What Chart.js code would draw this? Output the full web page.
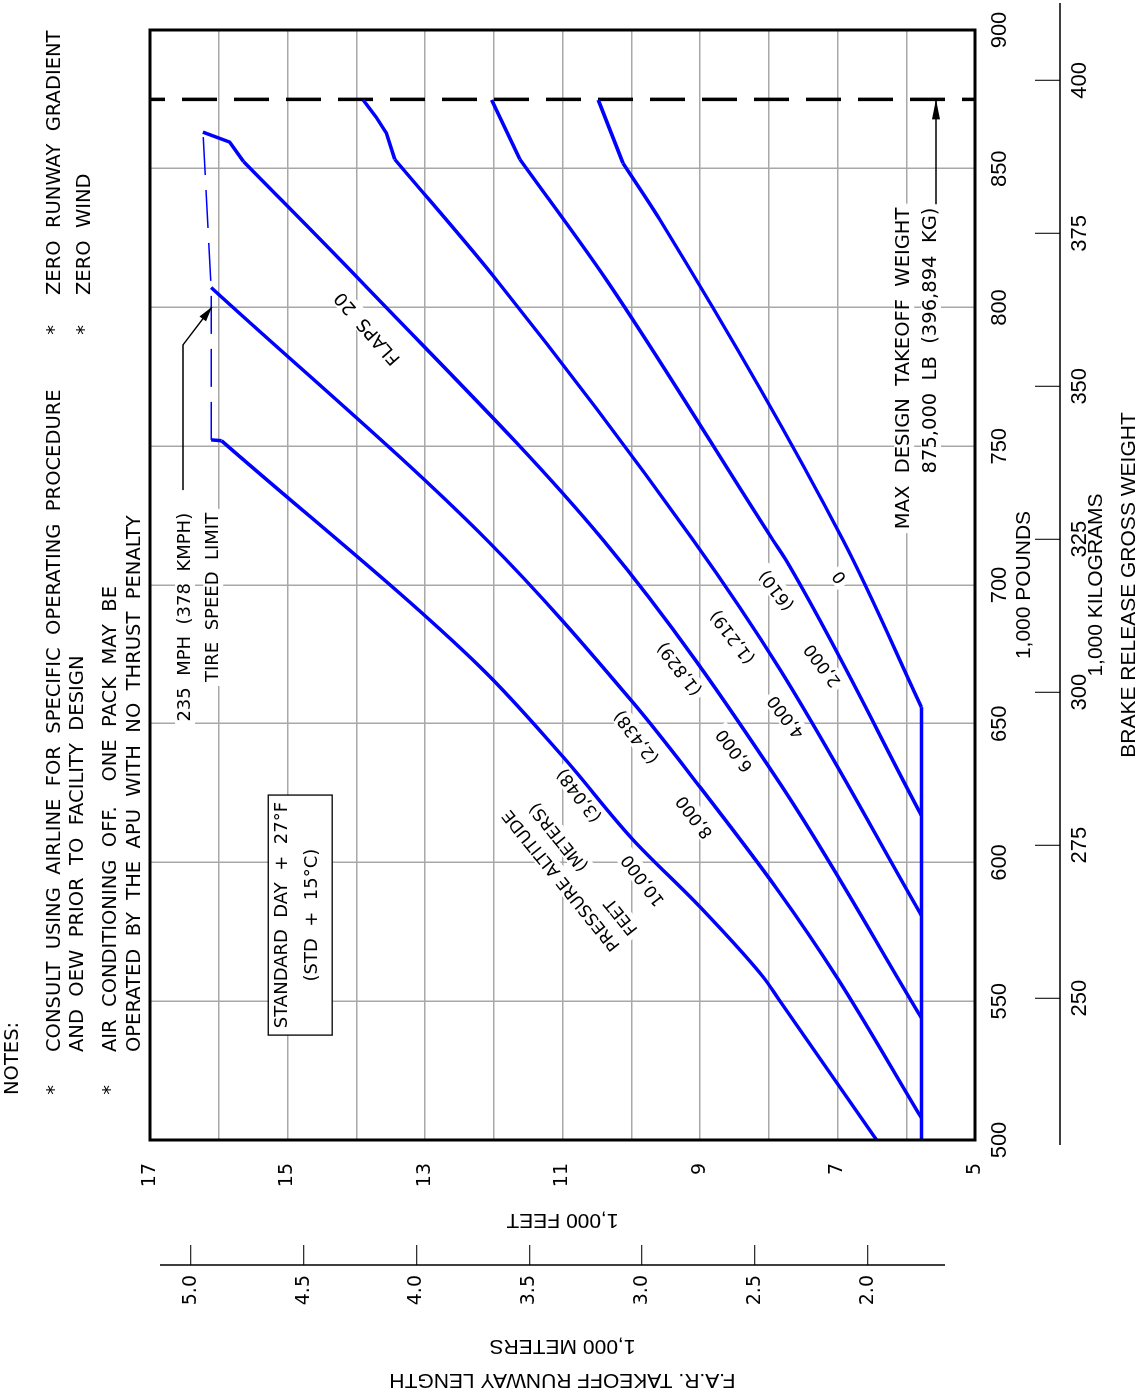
<!DOCTYPE html>
<html>
<head>
<meta charset="utf-8">
<script src="https://cdn.jsdelivr.net/npm/chart.js@4.4.0/dist/chart.umd.min.js"></script>
<style>
html, body { margin: 0; padding: 0; background: #fff; overflow: hidden; width: 1146px; height: 1395px; }
#wrap { position: absolute; left: 0; top: 0; width: 1395px; height: 1146px;
        transform-origin: 0 0; transform: translate(0, 1395px) rotate(-90deg); }
</style>
</head>
<body>
<div id="wrap"><canvas id="myChart" width="1395" height="1146"></canvas></div>
<script>
// tick values
var lbTicks = [500, 550, 600, 650, 700, 750, 800, 850, 900];
var kgTicks = [250, 275, 300, 325, 350, 375, 400];
var feetTicks = [5, 6, 7, 8, 9, 10, 11, 12, 13, 14, 15, 16, 17];
var meterTicks = [2.0, 2.5, 3.0, 3.5, 4.0, 4.5, 5.0];

// pressure altitude labels
var altFeet = ['10,000', '8,000', '6,000', '4,000', '2,000', '0'];
var altMeters = ['(3,048)', '(2,438)', '(1,829)', '(1,219)', '(610)', ''];

// curves: [weight 1,000 lb, runway length 1,000 ft]
// smooth lower part of each curve
var alt10000 = [[500, 6.43], [550.5, 7.85], [558.7, 8.08], [584, 9.0], [608.1, 9.97], [638, 10.99], [670.5, 12.2], [752, 15.96]];
var alt8000 = [[508, 5.78], [558.7, 7.01], [590.1, 7.87], [627.2, 9.0], [657.5, 9.97], [716.2, 12.1], [807.2, 16.11]];
var alt6000 = [[544, 5.78], [628.6, 7.84], [716.2, 10.41], [809.9, 13.95], [852.6, 15.64]];
var alt4000 = [[581, 5.78], [669.7, 7.84], [716.2, 9.1], [809.9, 11.96], [853.4, 13.44]];
var alt2000 = [[617, 5.78], [709, 7.75], [716.2, 7.94], [809.9, 10.36], [853.4, 11.62]];
var alt0 = [[656, 5.78], [716.2, 6.92], [831.5, 9.58], [852, 10.12]];
// straight end pieces above the break points
var alt10000Top = [[752, 15.96], [752.3, 16.11]];
var alt6000Top = [[852.6, 15.64], [859.6, 15.84], [863.2, 16.23]];
var alt4000Top = [[853.4, 13.44], [862.8, 13.56], [868.6, 13.71], [874.8, 13.9]];
var alt2000Top = [[853.4, 11.62], [874.8, 12.03]];
var alt0Top = [[852, 10.12], [874.8, 10.48]];
var minLength = [[500, 5.78], [656, 5.78]];
var tireLimit = [[752.3, 16.11], [807.2, 16.11], [863.2, 16.23]];
var maxTakeoff = [875];

var KG = 0.45359237, M = 0.3048;
var ISO = "'DejaVu Sans'";
var ARIAL = "'Liberation Sans', Arial";

function pts(a) {
    return a.map(function (p) { return { x: p[0], y: p[1] }; });
}
function setTicks(list) {
    return function (s) { s.ticks = list.map(function (v) { return { value: v }; }); };
}
function line(a, extra) {
    var d = { data: pts(a), showLine: true, borderColor: '#0000ff', borderWidth: 3.5, pointRadius: 0, tension: 0 };
    return Object.assign(d, extra || {});
}

var datasets = [];
[alt10000, alt8000, alt6000, alt4000, alt2000, alt0].forEach(function (c, i) {
    datasets.push(line(c, { label: altFeet[i], cubicInterpolationMode: 'monotone' }));
});
[alt10000Top, alt6000Top, alt4000Top, alt2000Top, alt0Top, minLength].forEach(function (c) {
    datasets.push(line(c));
});
datasets.push(line(tireLimit, { borderWidth: 1.5, borderDash: [38, 15] }));
datasets.push(line([[maxTakeoff[0], 17], [maxTakeoff[0], 5]], { borderColor: '#000', borderDash: [35, 17], borderDashOffset: 20 }));

function txt(ctx, s, x, y, o) {
    o = o || {};
    ctx.save();
    ctx.translate(x, y);
    if (o.angle) ctx.rotate(o.angle * Math.PI / 180);
    ctx.font = o.font || ("17px " + ISO);
    ctx.textAlign = o.align || 'center';
    ctx.textBaseline = 'middle';
    if (o.bg) {
        var w = ctx.measureText(s).width, h = o.h || 20;
        var x0 = o.align === 'left' ? 0 : (o.align === 'right' ? -w : -w / 2);
        ctx.fillStyle = '#fff';
        ctx.fillRect(x0 - 4, -h / 2, w + 8, h);
    }
    ctx.fillStyle = '#000';
    ctx.fillText(s, 0, 0);
    ctx.restore();
}

function arrow(ctx, p, head, half) {
    ctx.save();
    ctx.strokeStyle = '#000';
    ctx.fillStyle = '#000';
    ctx.lineWidth = 1.3;
    ctx.beginPath();
    ctx.moveTo(p[0][0], p[0][1]);
    for (var i = 1; i < p.length; i++) ctx.lineTo(p[i][0], p[i][1]);
    ctx.stroke();
    var a = p[p.length - 2], b = p[p.length - 1];
    ctx.translate(b[0], b[1]);
    ctx.rotate(Math.atan2(b[1] - a[1], b[0] - a[0]));
    ctx.beginPath();
    ctx.moveTo(0, 0);
    ctx.lineTo(-head, -half);
    ctx.lineTo(-head, half);
    ctx.closePath();
    ctx.fill();
    ctx.restore();
}

var extras = {
    id: 'extras',
    beforeDatasetsDraw: function (chart) {
        var ctx = chart.ctx, sx = chart.scales.x, sy = chart.scales.y;
        function P(w, f) { return [sx.getPixelForValue(w), sy.getPixelForValue(f)]; }

        // altitude labels along the curves
        var feetPos = [[593.7, 9.82], [616.5, 9.07], [640.5, 8.49], [652.6, 7.74], [671.2, 7.21], [703, 6.96]];
        var meterPos = [[624.3, 10.75], [645.3, 9.92], [669.9, 9.29], [681.4, 8.52], [698.2, 7.88]];
        altFeet.forEach(function (t, i) {
            var p = P(feetPos[i][0], feetPos[i][1]);
            txt(ctx, t, p[0], p[1], { angle: -37, bg: true });
            if (altMeters[i]) {
                var q = P(meterPos[i][0], meterPos[i][1]);
                txt(ctx, altMeters[i], q[0], q[1], { angle: -37, bg: true });
            }
        });
        var p = P(593.7, 11.01);
        txt(ctx, 'PRESSURE ALTITUDE', p[0], p[1], { angle: -39, bg: true });
        p = P(580.7, 10.14);
        txt(ctx, 'FEET', p[0], p[1], { angle: -39, bg: true });
        p = P(609.3, 11.05);
        txt(ctx, '(METERS)', p[0], p[1], { angle: -39, bg: true });
        p = P(792.6, 13.83);
        txt(ctx, 'FLAPS  20', p[0], p[1], { angle: -41, bg: true, font: "18px " + ISO });

        // standard day box
        var b1 = P(537.8, 15.28), b2 = P(624.3, 14.35);
        ctx.save();
        ctx.fillStyle = '#fff';
        ctx.fillRect(b1[0], b1[1], b2[0] - b1[0], b2[1] - b1[1]);
        ctx.strokeStyle = '#000';
        ctx.lineWidth = 1.3;
        ctx.strokeRect(b1[0], b1[1], b2[0] - b1[0], b2[1] - b1[1]);
        ctx.restore();
        var cx = (b1[0] + b2[0]) / 2;
        txt(ctx, 'STANDARD  DAY  +  27\u00B0F', cx, b1[1] + 14, { font: "18px " + ISO });
        txt(ctx, '(STD  +  15\u00B0C)', cx, b1[1] + 44, { font: "18px " + ISO });

        // tire speed limit note
        p = P(726, 16.49);
        txt(ctx, '235  MPH  (378  KMPH)', p[0], p[1], { align: 'right', bg: true, font: "18px " + ISO });
        p = P(726, 16.08);
        txt(ctx, 'TIRE  SPEED  LIMIT', p[0], p[1], { align: 'right', bg: true, font: "18px " + ISO });

        // max design takeoff weight note
        p = P(836, 6.03);
        txt(ctx, 'MAX  DESIGN  TAKEOFF  WEIGHT', p[0], p[1], { align: 'right', bg: true, font: "19.5px " + ISO });
        p = P(836, 5.64);
        txt(ctx, '875,000  LB  (396,894  KG)', p[0], p[1], { align: 'right', bg: true, font: "19.5px " + ISO });
    },
    afterDraw: function (chart) {
        var ctx = chart.ctx, a = chart.chartArea, sx = chart.scales.x, sy = chart.scales.y;
        function P(w, f) { return [sx.getPixelForValue(w), sy.getPixelForValue(f)]; }

        // frame
        ctx.save();
        ctx.strokeStyle = '#000';
        ctx.lineWidth = 3;
        ctx.strokeRect(a.left, a.top, a.right - a.left, a.bottom - a.top);

        // kg axis line and meters axis line
        ctx.lineWidth = 1.5;
        var kg = chart.scales.x2, m = chart.scales.y2;
        ctx.beginPath();
        ctx.moveTo(a.left - 5, kg.top + 25);
        ctx.lineTo(a.right + 27, kg.top + 25);
        ctx.moveTo(m.right - 20, a.top + 10);
        ctx.lineTo(m.right - 20, a.bottom - 30);
        ctx.stroke();
        ctx.restore();

        // arrows
        arrow(ctx, [P(837.2, 5.567), P(875, 5.567)], 20, 4);
        arrow(ctx, [P(734.2, 16.52), P(786.5, 16.52), P(800.2, 16.1)], 15, 4);

        // notes
        var f = "19.5px " + ISO;
        txt(ctx, 'NOTES:', 300, 13, { align: 'left', font: f });
        txt(ctx, '*', 305, 55, { font: f });
        txt(ctx, 'CONSULT  USING  AIRLINE  FOR  SPECIFIC  OPERATING  PROCEDURE', 343, 55, { align: 'left', font: f });
        txt(ctx, 'AND  OEW  PRIOR  TO  FACILITY  DESIGN', 343, 78, { align: 'left', font: f });
        txt(ctx, '*', 305, 111, { font: f });
        txt(ctx, 'AIR  CONDITIONING  OFF.    ONE  PACK  MAY  BE', 343, 111, { align: 'left', font: f });
        txt(ctx, 'OPERATED  BY  THE  APU  WITH  NO  THRUST  PENALTY', 343, 135, { align: 'left', font: f });
        txt(ctx, '*', 1065, 55, { font: f });
        txt(ctx, 'ZERO  RUNWAY  GRADIENT', 1100, 55, { align: 'left', font: f });
        txt(ctx, '*', 1065, 85, { font: f });
        txt(ctx, 'ZERO  WIND', 1100, 85, { align: 'left', font: f });
    }
};

function noPad(s) {
    s.paddingLeft = 0; s.paddingRight = 0; s.paddingTop = 0; s.paddingBottom = 0;
}

var ctx = document.getElementById('myChart').getContext('2d');
var chart = new Chart(ctx, {
    type: 'scatter',
    data: { datasets: datasets },
    options: {
        responsive: false,
        animation: false,
        devicePixelRatio: 1,
        layout: { padding: { top: 150, right: 30, bottom: 0, left: 0 }, autoPadding: false },
        plugins: { legend: { display: false }, tooltip: { enabled: false } },
        scales: {
            x: {
                type: 'linear', position: 'bottom', weight: 0, min: 500, max: 900,
                afterBuildTicks: setTicks(lbTicks),
                grid: { color: '#a8a8a8', lineWidth: 1.5, drawTicks: false },
                border: { display: false },
                ticks: { padding: 12, color: '#000', autoSkip: false, maxRotation: 0, font: { family: ARIAL, size: 22 } },
                title: { display: true, text: '1,000 POUNDS', color: '#000', padding: { top: 0, bottom: 0 }, font: { family: ARIAL, size: 21, lineHeight: 1 } },
                afterFit: function (s) { s.height = 60; noPad(s); }
            },
            x2: {
                type: 'linear', position: 'bottom', weight: 1, min: 500 * KG, max: 900 * KG,
                afterBuildTicks: setTicks(kgTicks),
                grid: { drawOnChartArea: false, tickLength: 25, color: '#333', lineWidth: 1.3 },
                border: { display: false },
                ticks: { padding: 7, color: '#000', autoSkip: false, maxRotation: 0, font: { family: ARIAL, size: 22 } },
                title: { display: true, text: ['1,000 KILOGRAMS', 'BRAKE RELEASE GROSS WEIGHT'], color: '#000', padding: { top: 0, bottom: 0 }, font: { family: ARIAL, size: 21, lineHeight: 33 / 21 } },
                afterFit: function (s) { s.height = 111; noPad(s); }
            },
            y: {
                type: 'linear', position: 'left', weight: 0, min: 5, max: 17,
                afterBuildTicks: setTicks(feetTicks),
                grid: { color: '#a8a8a8', lineWidth: 1.5, drawTicks: false },
                border: { display: false },
                ticks: {
                    padding: 23, color: '#000', autoSkip: false, font: { family: ISO, size: 19 },
                    callback: function (v) { return v % 2 === 1 ? String(v) : ''; }
                },
                title: { display: true, text: '1,000 FEET', color: '#000', padding: { top: 15, bottom: 0 }, font: { family: ARIAL, size: 21, lineHeight: 1 } },
                afterFit: function (s) { s.width = 105; noPad(s); }
            },
            y2: {
                type: 'linear', position: 'left', weight: 1, min: 5 * M, max: 17 * M,
                afterBuildTicks: setTicks(meterTicks),
                grid: { drawOnChartArea: false, tickLength: 20, color: '#333', lineWidth: 1.3 },
                border: { display: false },
                ticks: {
                    padding: 10, color: '#000', autoSkip: false, font: { family: ISO, size: 19 },
                    callback: function (v) { return v.toFixed(1); }
                },
                title: { display: true, text: ['F.A.R. TAKEOFF RUNWAY LENGTH', '1,000 METERS'], color: '#000', padding: { top: -2, bottom: 0 }, font: { family: ARIAL, size: 21, lineHeight: 34 / 21 } },
                afterFit: function (s) { s.width = 150; noPad(s); }
            }
        }
    },
    plugins: [extras]
});
</script>
</body>
</html>
